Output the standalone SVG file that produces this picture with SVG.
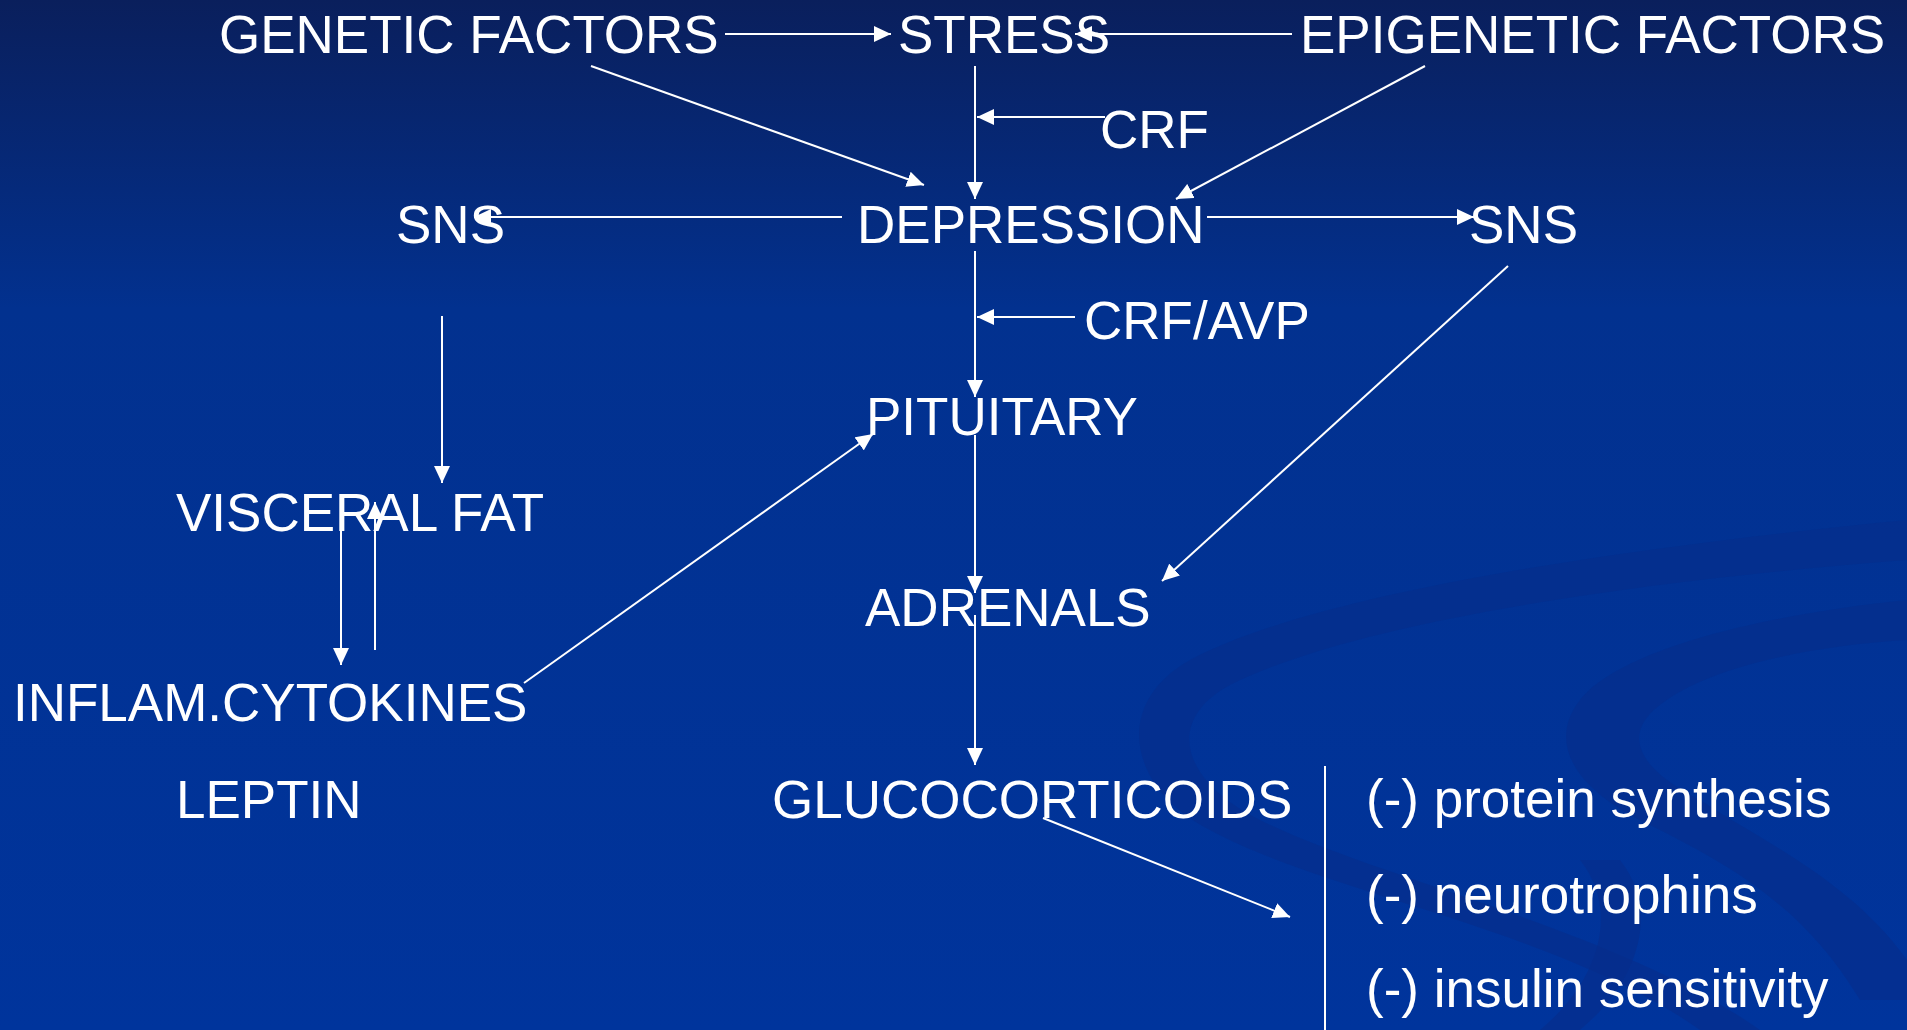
<svg xmlns="http://www.w3.org/2000/svg" width="1907" height="1030" viewBox="0 0 1907 1030">
  <defs>
    <linearGradient id="bg" x1="0" y1="0" x2="0" y2="1">
      <stop offset="0" stop-color="#0a1f5c"/>
      <stop offset="0.3" stop-color="#02318f"/>
      <stop offset="1" stop-color="#00349c"/>
    </linearGradient>
    <marker id="ah" markerUnits="userSpaceOnUse" markerWidth="18" markerHeight="16" refX="17" refY="8" orient="auto">
      <path d="M0,0 L17,8 L0,16 z" fill="#ffffff"/>
    </marker>
    <style>
      .t { font-family: "Liberation Sans", Arial, sans-serif; font-size: 53px; fill: #ffffff; }
      .c { stroke: #ffffff; stroke-width: 2; fill: none; marker-end: url(#ah); }
      .p { stroke: #ffffff; stroke-width: 2; fill: none; }
      .sw { fill: #062d8a; opacity: 0.6; }
    </style>
  </defs>
  <rect width="1907" height="1030" fill="url(#bg)"/>
  <!-- decorative swirls -->
  <g id="decor">
    <path class="sw" d="M1907,520 C1650,545 1320,590 1190,660 C1110,705 1130,790 1210,830 C1330,895 1560,930 1700,1030 L1760,1030 C1620,930 1380,880 1260,820 C1180,780 1165,720 1230,685 C1360,620 1650,580 1907,560 Z"/>
    <path class="sw" d="M1907,600 C1760,615 1620,650 1580,700 C1545,745 1580,790 1640,820 C1720,860 1800,900 1860,1000 L1907,1000 L1907,960 C1850,880 1760,840 1700,800 C1640,770 1620,735 1660,705 C1710,665 1820,645 1907,640 Z"/>
    <path class="sw" d="M1580,860 C1620,910 1600,980 1540,1030 L1580,1030 C1640,980 1660,910 1620,860 Z"/>
  </g>
  <g id="connectors">
    <line class="c" x1="725" y1="34" x2="891" y2="34"/>
    <line class="c" x1="1292" y1="34" x2="1075" y2="34"/>
    <line class="c" x1="975" y1="66" x2="975" y2="199"/>
    <line class="c" x1="1105" y1="117" x2="977" y2="117"/>
    <line class="c" x1="591" y1="66" x2="924" y2="185"/>
    <line class="c" x1="1425" y1="66" x2="1176" y2="199"/>
    <line class="c" x1="842" y1="217" x2="474" y2="217"/>
    <line class="c" x1="1207" y1="217" x2="1474" y2="217"/>
    <line class="c" x1="975" y1="251" x2="975" y2="397"/>
    <line class="c" x1="1075" y1="317" x2="977" y2="317"/>
    <line class="c" x1="975" y1="435" x2="975" y2="593"/>
    <line class="c" x1="975" y1="615" x2="975" y2="765"/>
    <line class="c" x1="1508" y1="266" x2="1162" y2="581"/>
    <line class="c" x1="442" y1="316" x2="442" y2="483"/>
    <line class="c" x1="341" y1="530" x2="341" y2="665"/>
    <line class="c" x1="375" y1="650" x2="375" y2="502"/>
    <line class="c" x1="524" y1="683" x2="873" y2="434"/>
    <line class="c" x1="1043" y1="818" x2="1290" y2="917"/>
    <line class="p" x1="1325" y1="766" x2="1325" y2="1030"/>
  </g>
  <g id="n-genetic"><text class="t" x="219" y="53">GENETIC FACTORS</text></g>
  <g id="n-stress"><text class="t" x="898" y="53">STRESS</text></g>
  <g id="n-epigenetic"><text class="t" x="1300" y="53">EPIGENETIC FACTORS</text></g>
  <g id="n-crf"><text class="t" x="1100" y="148">CRF</text></g>
  <g id="n-sns-left"><text class="t" x="396" y="243">SNS</text></g>
  <g id="n-depression"><text class="t" x="857" y="243">DEPRESSION</text></g>
  <g id="n-sns-right"><text class="t" x="1469" y="243">SNS</text></g>
  <g id="n-crfavp"><text class="t" x="1084" y="339">CRF/AVP</text></g>
  <g id="n-pituitary"><text class="t" x="866" y="435">PITUITARY</text></g>
  <g id="n-visceral"><text class="t" x="176" y="531">VISCERAL FAT</text></g>
  <g id="n-adrenals"><text class="t" x="865" y="626">ADRENALS</text></g>
  <g id="n-inflam"><text class="t" x="13" y="721">INFLAM.CYTOKINES</text></g>
  <g id="n-leptin"><text class="t" x="176" y="818">LEPTIN</text></g>
  <g id="n-gluco"><text class="t" x="772" y="818">GLUCOCORTICOIDS</text></g>
  <g id="n-effects">
    <text class="t" x="1366" y="817">(-) protein synthesis</text>
    <text class="t" x="1366" y="913">(-) neurotrophins</text>
    <text class="t" x="1366" y="1007">(-) insulin sensitivity</text>
  </g>
</svg>
